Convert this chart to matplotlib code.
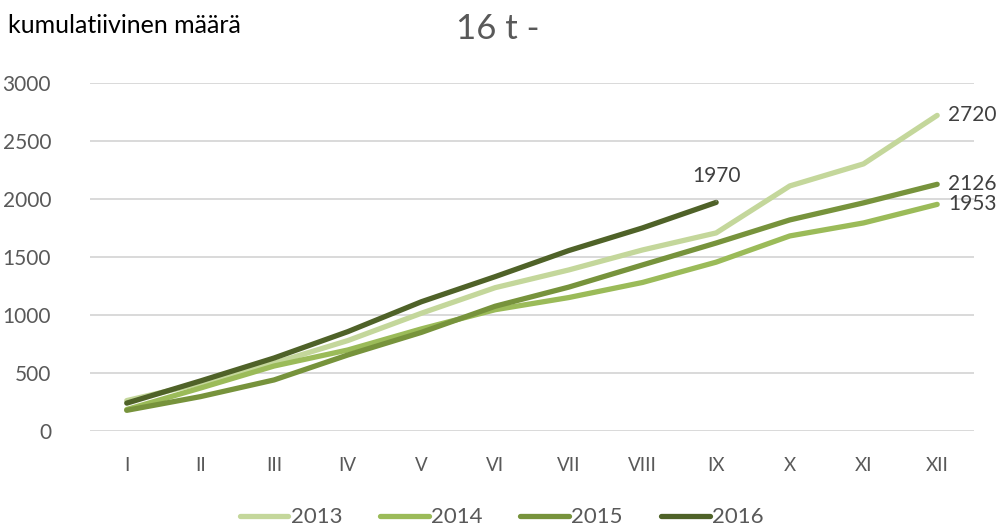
import matplotlib

matplotlib.use("Agg")
import matplotlib.pyplot as plt  # noqa: E402

plt.rcParams["font.family"] = ["Lato", "DejaVu Sans"]

# data
months = ["I", "II", "III", "IV", "V", "VI", "VII", "VIII", "IX", "X", "XI", "XII"]
v2013 = [262, 410, 585, 779, 1015, 1235, 1388, 1560, 1707, 2112, 2302, 2720]
v2014 = [185, 370, 560, 698, 880, 1045, 1150, 1280, 1455, 1681, 1793, 1953]
v2015 = [178, 296, 440, 655, 850, 1075, 1240, 1431, 1620, 1819, 1966, 2126]
v2016 = [240, 431, 629, 856, 1114, 1330, 1555, 1750, 1970]

series = [
    ("2013", v2013, "#C4D79B"),
    ("2014", v2014, "#9BBB59"),
    ("2015", v2015, "#77933C"),
    ("2016", v2016, "#4F6228"),
]

C_TEXT = "#595959"
C_LABEL = "#404040"
C_GRID = "#D9D9D9"

fig = plt.figure(figsize=(9.99, 5.29), dpi=100)
ax = fig.add_axes([0.090, 0.1853, 0.885, 0.658])

for name, vals, color in series:
    ax.plot(range(len(vals)), vals, color=color, lw=3.8,
            solid_capstyle="round", solid_joinstyle="round", label=name, zorder=3)

ax.set_xlim(-0.5, 11.5)
ax.set_ylim(0, 3000)
ax.set_yticks(range(0, 3001, 500))
ax.set_xticks(range(len(months)))
ax.set_xticklabels(months)
ax.grid(axis="y", color=C_GRID, lw=1.4)
ax.set_axisbelow(True)
for s in ax.spines.values():
    s.set_visible(False)
ax.tick_params(axis="both", length=0)
ax.tick_params(axis="y", labelsize=15, labelcolor=C_TEXT, pad=28)
ax.tick_params(axis="x", labelsize=13.5, labelcolor=C_TEXT, pad=19)

# end-of-series labels
for vals in (v2013, v2015, v2014):
    ax.text(11.15, vals[-1], str(vals[-1]), fontsize=15, color=C_LABEL,
            va="center", ha="left")
ax.annotate(str(v2016[-1]), xy=(8, v2016[-1]), xytext=(8, v2016[-1] + 230),
            fontsize=15, color=C_LABEL, ha="center", va="center",
            arrowprops=dict(arrowstyle="-", color="#A6A6A6", lw=1,
                            shrinkA=9, shrinkB=1))

fig.text(0.008, 0.952, "kumulatiivinen määrä", fontsize=18, color="black",
         ha="left", va="center")
fig.text(0.498, 0.945, "16 t -", fontsize=25, color=C_TEXT,
         ha="center", va="center")

leg = fig.legend(loc="center", bbox_to_anchor=(0.502, 0.022), ncol=4,
                 frameon=False, fontsize=16, handlelength=2.2,
                 handletextpad=0.1, columnspacing=1.7)
for t in leg.get_texts():
    t.set_color(C_TEXT)

fig.savefig("out.png", dpi=100)
